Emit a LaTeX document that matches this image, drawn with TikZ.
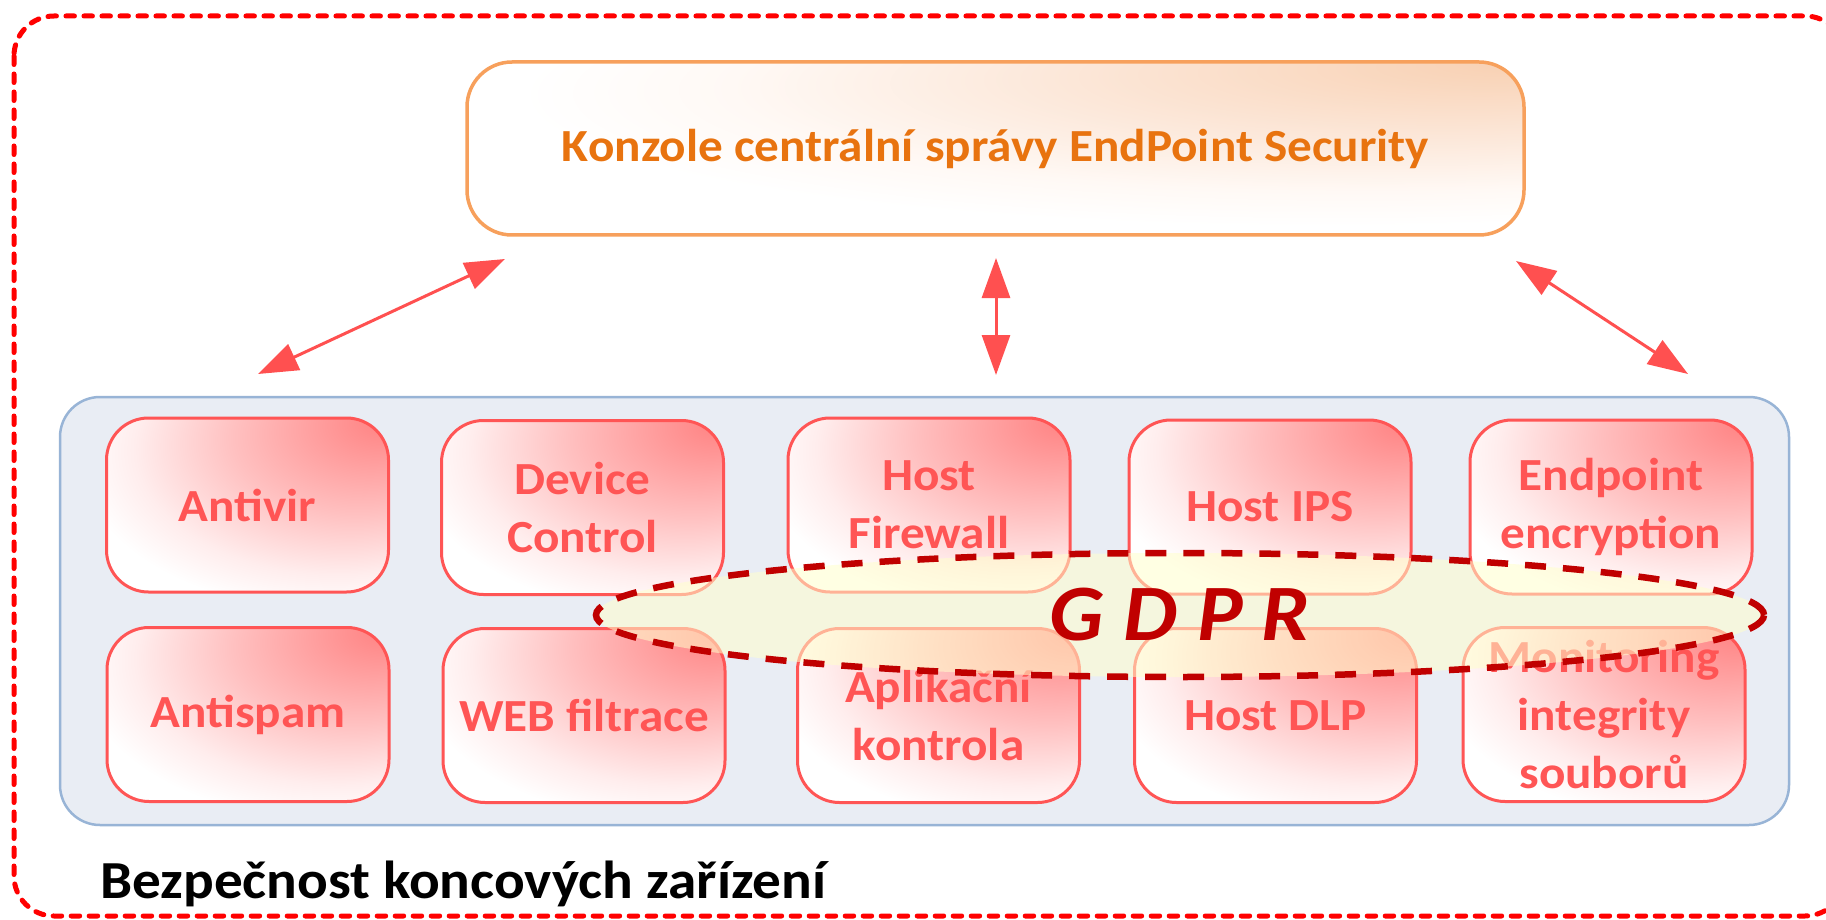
\documentclass[tikz,border=0pt]{standalone}
\usepackage{fontspec}
\setmainfont{Carlito}[FakeStretch=1.07]
\usetikzlibrary{arrows.meta,shapes.geometric}
\definecolor{outerred}{HTML}{FF0000}
\definecolor{boxred}{HTML}{FF5555}
\definecolor{boxtop}{HTML}{FF8080}
\definecolor{boxmid}{HTML}{FFC0C0}
\definecolor{boxlight}{HTML}{FFEDED}
\definecolor{consoleborder}{HTML}{F7A05C}
\definecolor{consoletext}{HTML}{E8730F}
\definecolor{consoletop}{HTML}{F8D0B2}
\definecolor{consolemid}{HTML}{FCE8DA}
\definecolor{consolelight}{HTML}{FFF9F5}
\definecolor{blueborder}{HTML}{98B4D6}
\definecolor{bluefill}{HTML}{E9EDF4}
\definecolor{gdprred}{HTML}{C00000}
\definecolor{gdprfill}{HTML}{FFFFCC}
\definecolor{arrowred}{HTML}{FF5050}
\pgfdeclareradialshading{modshade}{\pgfpoint{25bp}{25bp}}{color(0bp)=(boxtop); color(22bp)=(boxmid); color(36bp)=(boxlight); color(44bp)=(white); color(100bp)=(white)}
\pgfdeclareradialshading{consoleshade}{\pgfpoint{25bp}{25bp}}{color(0bp)=(consoletop); color(18bp)=(consolemid); color(30bp)=(consolelight); color(38bp)=(white); color(100bp)=(white)}
\begin{document}
\begin{tikzpicture}[x=1pt,y=-1pt,
  modbox/.style={draw=boxred, line width=3pt, rounded corners=42pt,
    minimum width=282pt, minimum height=174pt, inner sep=0pt,
    shading=modshade,
    text=boxred, align=center, font=\bfseries\fontsize{46}{58}\selectfont},
  conn/.style={draw=arrowred, line width=3pt,
    {Triangle[length=40pt,width=28pt]}-{Triangle[length=40pt,width=28pt]}},
  outerframe/.style={draw=outerred, line width=5pt, line cap=round,
    dash pattern=on 8.5pt off 9.5pt, rounded corners=40pt}
  ]
\useasboundingbox (0,0) rectangle (1826,920);
\fill[white] (0,0) rectangle (1826,920);
% outer dashed frame
\draw[outerframe] (14,16) rectangle (1845,916);
% console
\node[draw=consoleborder, line width=3.5pt, rounded corners=45pt,
  minimum width=1057pt, minimum height=173pt, shading=consoleshade,
  text=consoletext, font=\bfseries\fontsize{46}{54}\selectfont]
  (console) at (995.5,148.5) {Konzole centrální správy EndPoint Security};
% container
\node[draw=blueborder, fill=bluefill, line width=2.5pt, rounded corners=40pt,
  minimum width=1729pt, minimum height=428pt] (container) at (924.5,611) {};
% modules
\node[modbox] (antivir)  at (247.5,505)   {Antivir};
\node[modbox] (device)   at (582.5,507.5) {Device\\Control};
\node[modbox] (firewall) at (929,505)     {Host\\Firewall};
\node[modbox] (ips)      at (1270,507)    {Host IPS};
\node[modbox] (encrypt)  at (1611,507)    {Endpoint\\encryption};
\node[modbox] (antispam) at (248,714.5)   {Antispam};
\node[modbox] (web)      at (584,715.5)   {WEB filtrace};
\node[modbox] (aplik)    at (938.5,715.5) {Aplikační\\kontrola};
\node[modbox] (dlp)      at (1275.5,715.5){Host DLP};
\node[modbox] (monitor)  at (1604,714.5)  {Monitoring\\integrity\\souborů};
% GDPR ellipse
\node[ellipse, draw=gdprred, line width=6.5pt, dash pattern=on 21pt off 17pt,
  fill=gdprfill, fill opacity=0.55, text opacity=1, inner sep=0pt,
  minimum width=1168pt, minimum height=124pt,
  text=gdprred, font=\bfseries\itshape\fontsize{80}{90}\selectfont]
  (gdpr) at (1180,615) {G D P R};
% arrows
\coordinate (l1) at (258,374);
\coordinate (l2) at (505,259);
\coordinate (m1) at (996,375);
\coordinate (m2) at (996,258);
\coordinate (r1) at (1688,374);
\coordinate (r2) at (1516,261);
\draw[conn] (l1) -- (l2);
\draw[conn] (m1) -- (m2);
\draw[conn] (r1) -- (r2);
% label
\node[anchor=base west, inner sep=0pt, font=\bfseries\fontsize{53.5}{60}\selectfont]
  (label) at (100,898) {Bezpečnost koncových zařízení};
\end{tikzpicture}
\end{document}
